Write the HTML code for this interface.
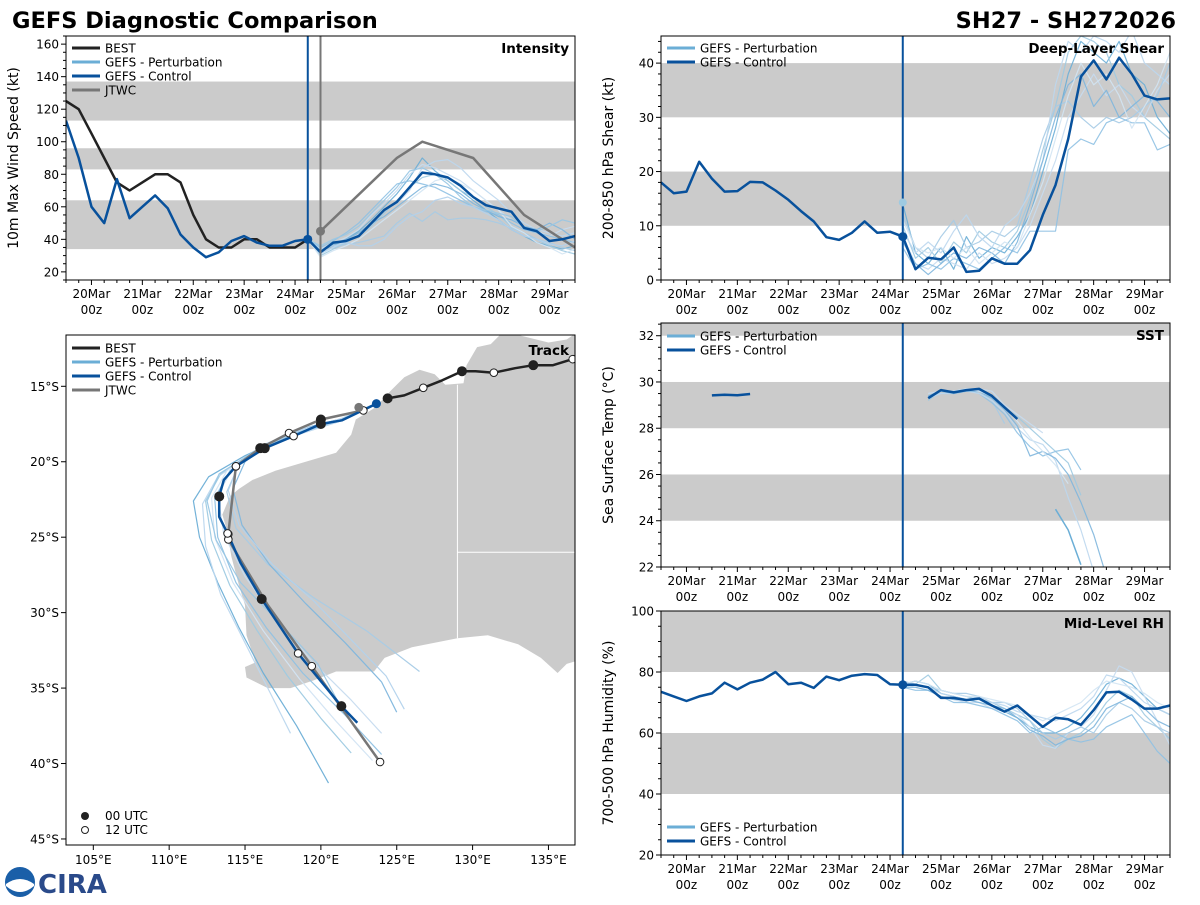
<!DOCTYPE html>
<html><head><meta charset="utf-8">
<style>
body{margin:0;background:#fff;}
svg text{font-family:"DejaVu Sans","Liberation Sans",sans-serif;}
</style></head>
<body>
<svg id="fig" width="1200" height="900" viewBox="0 0 1200 900" xmlns="http://www.w3.org/2000/svg">
<text x="12" y="28" font-size="22.5" font-weight="bold">GEFS Diagnostic Comparison</text>
<text x="1176" y="28" font-size="22.5" font-weight="bold" text-anchor="end">SH27 - SH272026</text>
<g>
<circle cx="20" cy="882" r="15" fill="#1a5fa8"/>
<path d="M6 884 Q20 874 34 884 L34 886 Q20 898 6 886 Z" fill="#fff"/>
<text x="38" y="893" font-size="26" font-weight="bold" fill="#2a4a8a" font-family="Liberation Serif, serif">CIRA</text>
</g>
</svg>
<script>
// ---------- DATA ----------
const T0 = 19.5, DT = 0.25; // time axis start (day of March) and step
const dayTicks = [20,21,22,23,24,25,26,27,28,29];
const initTime = 24.25, jtwcTime = 24.5;

const intensityBest = [125,120,105,90,75,70,75,80,80,75,55,40,35,35,40,40,35,35,35,40];
const intensityControl = [113,90,60,50,77,53,60,67,59,43,35,29,32,39,42,38,36,36,39,40,32,38,39,42,50,58,63,72,81,80,78,73,66,61,59,57,47,45,39,40,42];
const jtwcTimes = [24.5,26.0,26.5,27.5,28.5,29.5];
const jtwcIntensity = [45,90,100,90,55,35];
const intensityMembers = [
[40,33,36,40,45,52,60,68,78,90,82,76,70,64,58,52,46,42,38,36,34,36],
[40,30,34,38,42,48,56,64,72,78,80,76,70,66,60,55,48,44,40,36,33,31],
[40,34,38,41,46,55,62,70,80,86,84,80,76,70,64,58,52,48,45,42,46,48],
[40,32,35,37,38,40,42,50,56,51,57,52,53,53,52,50,47,44,40,38,35,33],
[40,35,39,44,50,58,66,74,76,74,72,68,64,60,57,55,50,46,44,42,40,38],
[40,31,35,39,43,50,58,62,70,84,88,89,84,76,70,64,56,50,46,44,42,44],
[40,33,37,40,44,50,54,60,66,72,74,72,68,62,58,54,52,48,46,50,46,40],
[40,29,33,36,40,46,52,58,64,70,76,78,74,70,64,58,48,44,38,35,31,34],
[40,36,40,43,48,56,64,72,82,84,80,74,66,60,58,56,54,47,45,48,52,50],
[40,34,36,38,36,36,40,48,54,57,64,66,62,60,56,52,46,42,40,37,36,39]];
const intensityBands = [[34,64],[83,96],[113,137]];

const shearControl = [18,16,16.3,21.8,18.7,16.3,16.4,18.1,18,16.5,14.8,12.7,10.8,7.9,7.4,8.7,10.8,8.7,8.9,8,2,4.1,3.8,6,1.5,1.7,4,3,3,5.5,12,17.5,26,37.5,40.5,37,41,38,34,33.3,33.5];
const shearMembers = [
[14,5,3,6,2,8,4,6,5,8,12,20,28,38,44,42,40,44,38,36,30,27],
[10,4,6,3,7,5,9,7,6,9,15,24,32,42,45,44,42,36,34,30,28,26],
[8,3,2,4,3,2,5,3,4,6,10,16,22,30,34,38,34,36,32,30,35,38],
[12,6,4,8,11,6,7,9,8,10,18,26,32,33,30,28,30,29,30,32,34,40],
[6,2,3,2,4,3,2,4,6,5,9,9,9,24,26,25,29,30,29,29,24,25],
[9,5,7,5,9,12,8,6,10,12,16,22,36,44,42,45,44,42,46,40,38,36],
[7,3,1,3,5,4,6,5,3,7,14,22,30,36,38,32,35,30,32,34,33,30],
[11,6,5,6,4,6,3,5,7,6,12,18,26,34,40,36,38,34,28,32,36,42]];
const shearBands = [[10,20],[30,40]];

const sstControl = [null,null,null,null,29.42,29.45,29.43,29.48,null,null,null,null,null,null,null,null,null,null,null,null,null,29.3,29.65,29.55,29.65,29.7,29.4,28.9,28.4];
const sstMembers = [
[29.2,29.6,29.5,29.6,29.6,29.3,28.9,28.5,28.0,27.5,27.0,26.5,25.1],
[29.5,29.6,29.6,29.7,29.7,29.6,29.0,28.6,28.2,27.8],
[29.3,29.5,29.5,29.6,29.6,29.2,28.2],
[29.4,29.6,29.6,29.7,29.5,29.1,28.6,27.8,27.2,26.8,27.0,27.1,26.2],
[29.3,29.5,29.5,29.6,29.5,29.2,28.7,28.0,27.5,27.3,26.6,25.0,23.6,21.8],
[29.4,29.6,29.5,29.6,29.6,29.3,28.8,28.1,26.8,27.0,26.7,26.0,24.8,23.4,21.6],
[29.3,29.6,29.6,29.7,29.6,29.4,28.9,28.3,27.6,27.0,26.4,25.6]];
const sstMemberStart = 24.75;
const sstLate = [24.5,23.6,22.1];
const sstLateStart = 27.25;
const sstBands = [[24,26],[28,30],[32,34]];

const rhControl = [73.5,72,70.5,72,73,76.5,74.3,76.5,77.5,80,76,76.5,74.8,78.5,77.3,78.8,79.3,79,76,75.8,75.8,75,71.5,71.5,70.8,71.3,69,67,69,65.5,62,65,64.5,62.7,67.5,73.3,73.5,71,68,68,69];
const rhMembers = [
[76,77,76,73,72,71,71,69,67,65,62,60,60,62,65,70,76,78,76,72,68,66],
[75,76,79,74,73,72,71,70,68,66,64,58,55,58,60,64,70,74,72,66,62,58],
[76,75,74,72,71,70,70,68,67,66,62,56,55,60,62,66,74,82,80,72,64,56],
[77,76,75,74,73,73,72,70,70,68,64,60,58,60,62,60,66,70,68,64,62,60],
[75,74,74,72,70,70,69,68,66,64,60,62,60,58,57,58,62,64,66,60,54,50],
[76,76,75,73,72,71,72,70,69,67,66,65,64,66,68,72,79,78,74,70,68,66],
[75,75,74,72,71,71,70,69,68,65,61,59,56,58,59,62,68,70,72,68,64,62],
[76,77,76,74,73,72,72,71,70,69,66,64,66,68,70,74,77,76,75,73,70,68]];
const rhBands = [[40,60],[80,100]];

// Track (lon E, lat; south negative)
const bestLon = [136.9,136.6,135.3,134.0,132.8,131.4,130.2,129.3,128.0,126.75,125.5,124.4];
const bestLat = [-13.0,-13.2,-13.6,-13.6,-13.8,-14.1,-14.0,-14.0,-14.6,-15.1,-15.6,-15.8];
const bestHour = [null,12,null,0,null,12,null,0,null,12,null,0];
const ctrlLon = [123.66,121.4,120.0,118.2,116.3,114.4,113.6,113.3,113.3,113.85,114.7,116.1,118.5,121.35,122.4];
const ctrlLat = [-16.15,-17.25,-17.5,-18.3,-19.1,-20.3,-21.2,-22.3,-23.65,-24.75,-26.7,-29.1,-32.7,-36.2,-37.3];
const ctrlHour = [null,null,0,12,0,12,null,0,null,12,null,0,12,0,null];
const jtwcLon = [122.5,122.8,120.0,117.9,116.0,114.4,113.9,113.9,116.5,119.4,123.9];
const jtwcLat = [-16.4,-16.6,-17.2,-18.1,-19.1,-20.3,-24.8,-25.15,-29.5,-33.55,-39.9];
const jtwcHour = [null,12,0,12,0,12,12,12,null,12,12];
const memberLon = [
[123.7,121.0,118.0,115.0,112.6,111.6,112.0,113.2,114.6,116.2,118.4,120.5],
[123.7,121.2,118.4,115.6,113.4,112.4,112.8,114.0,115.8,117.8,120.0,122.0],
[123.7,121.4,118.8,116.2,114.2,113.2,113.6,115.0,117.0,119.4,122.0,124.0],
[123.7,121.5,119.0,116.5,114.6,113.8,114.4,116.5,119.5,123.0,126.5],
[123.7,121.3,118.6,116.0,114.0,113.0,113.2,114.4,116.4,118.8,121.6,124.0],
[123.7,121.0,118.2,115.4,113.2,112.2,112.4,113.4,115.0,116.6,118.0],
[123.7,121.6,119.2,116.8,115.0,114.2,114.8,116.6,119.0,121.6,124.0,125.0],
[123.7,121.2,118.5,115.8,113.8,112.8,113.0,114.2,116.2,118.6,121.0,123.4],
[123.7,121.1,118.3,115.5,113.3,112.5,113.1,114.7,117.2,119.8,121.5],
[123.7,121.4,118.9,116.4,114.6,113.9,114.6,116.8,119.5,122.0,124.3,125.5]];
const memberLat = [
[-16.1,-17.3,-18.2,-19.6,-21.0,-22.6,-25.0,-28.0,-31.0,-34.0,-37.5,-41.3],
[-16.1,-17.2,-18.0,-19.3,-20.8,-22.6,-25.2,-28.2,-31.2,-34.2,-37.0,-39.3],
[-16.1,-17.2,-17.9,-19.0,-20.4,-22.2,-24.8,-27.6,-30.4,-33.2,-35.8,-38.0],
[-16.1,-17.1,-17.8,-18.9,-20.2,-22.0,-24.4,-26.8,-29.0,-31.2,-33.9],
[-16.1,-17.3,-18.1,-19.2,-20.6,-22.4,-25.0,-28.0,-31.0,-34.0,-36.8,-39.4],
[-16.1,-17.4,-18.3,-19.5,-21.0,-22.8,-25.6,-28.8,-32.0,-35.2,-38.0],
[-16.1,-17.1,-17.7,-18.7,-20.0,-21.8,-24.2,-26.8,-29.4,-32.0,-34.6,-36.6],
[-16.1,-17.2,-18.0,-19.2,-20.6,-22.4,-25.0,-28.0,-31.2,-34.4,-37.2,-39.8],
[-16.1,-17.3,-18.1,-19.4,-20.8,-22.6,-25.2,-28.0,-30.6,-33.4,-36.6],
[-16.1,-17.2,-17.8,-18.8,-20.1,-21.9,-24.2,-26.8,-29.2,-31.8,-34.2,-36.4]];
const lonTicks = [105,110,115,120,125,130,135];
const latTicks = [-15,-20,-25,-30,-35,-40,-45];
const landLon = [137.5,136.2,135,133,132,131.2,130.3,129.6,129.4,128.2,127.5,126.5,125.5,124.6,123.6,122.3,122.0,121.0,119.0,117.0,115.5,114.6,114.0,113.5,113.8,114.1,114.6,115.0,115.1,115.7,115.0,115.1,116.5,118.0,119.5,121.0,123.5,124.2,126.0,129.0,131.0,133.0,134.5,135.6,136.2,137.5];
const landLat = [-11.0,-11.9,-12.1,-11.6,-11.4,-12.2,-12.4,-13.6,-14.8,-14.9,-14.2,-13.9,-14.4,-15.3,-16.4,-17.2,-18.2,-19.4,-20.0,-20.6,-21.2,-21.8,-22.3,-23.5,-24.5,-26.3,-28.2,-29.5,-31.5,-33.3,-33.6,-34.3,-35.0,-35.0,-34.5,-33.9,-33.9,-33.0,-32.3,-31.7,-31.5,-32.1,-33.0,-34.0,-33.4,-33.0];

// ---------- DRAWING ----------
const NS = 'http://www.w3.org/2000/svg';
const svg = document.getElementById('fig');
function el(tag, attrs, parent){const e=document.createElementNS(NS,tag);for(const k in attrs)e.setAttribute(k,attrs[k]);(parent||svg).appendChild(e);return e;}
const PERT_COLORS = ['#6baed6','#9ecae1','#c6dbef','#a6cbe6','#8fc1e3','#bcd7ee','#7fb6dd','#d2e4f3','#98c6e4','#b2d2ec'];
const CTRL='#08519c';
let clipId=0;

function makePanel(name, x0,y0,w,h, ymin,ymax, yMajor, yMinor, ylabel){
  const g = el('g',{});
  
  
  const P={x0,y0,w,h,ymin,ymax,g};
  P.sx = t => x0 + (t - T0)/10*w;
  P.sy = v => y0 + h - (v-ymin)/(ymax-ymin)*h;
  const id='clip'+(clipId++);
  const cp=el('clipPath',{id},g); el('rect',{x:x0,y:y0,width:w,height:h},cp);
  P.plot = el('g',{'clip-path':'url(#'+id+')'},g);
  
  
  for(let v=Math.ceil(ymin/yMinor)*yMinor; v<=ymax; v+=yMinor){
    const y=P.sy(v); const major = Math.abs(v/yMajor - Math.round(v/yMajor))<1e-6;
    el('line',{x1:x0-(major?5:3),x2:x0,y1:y,y2:y,stroke:'#000','stroke-width':1},g);
    if(major){const t=el('text',{x:x0-7,y:y+4.5,'font-size':12,'text-anchor':'end'},g);t.textContent=v;
      
      }
  }
  for(let d=19.5; d<=29.5+1e-6; d+=0.25){
    const x=P.sx(d); const major=Math.abs(d-Math.round(d))<1e-6;
    el('line',{x1:x,x2:x,y1:y0+h,y2:y0+h+(major?5:3),stroke:'#000','stroke-width':1},g);
  }
  dayTicks.forEach(d=>{
    const x=P.sx(d);
    const t=el('text',{x:x,y:y0+h+18,'font-size':12,'text-anchor':'middle'},g);t.textContent=d+'Mar';
    
    
    const t2=el('text',{x:x,y:y0+h+34,'font-size':12,'text-anchor':'middle'},g);t2.textContent='00z';
    
    
  });
  const yl=el('text',{x:0,y:0,'font-size':14,'text-anchor':'middle',transform:`translate(${x0-48},${y0+h/2}) rotate(-90)`},g);
  yl.textContent=ylabel;
  
  
  return P;
}
function bands(P, list){
  list.forEach(b=>{
    const r=el('rect',{x:P.x0,y:P.sy(b[1]),width:P.w,height:P.sy(b[0])-P.sy(b[1]),fill:'#cbcbcb'},P.plot);
    
    
  });
}
function series(P, vals, start, color, width, name, opacity){
  let d='', pen=false;
  vals.forEach((v,i)=>{
    if(v===null||v===undefined){pen=false;return;}
    const x=P.sx(start+i*DT), y=P.sy(v);
    d += (pen?'L':'M')+x.toFixed(1)+' '+y.toFixed(1); pen=true;
  });
  const p=el('path',{d,fill:'none',stroke:color,'stroke-width':width,'stroke-linejoin':'round',opacity:opacity||1},P.plot);
  
  
  return p;
}
function frame(P,title){
  const r=el('rect',{x:P.x0,y:P.y0,width:P.w,height:P.h,fill:'none',stroke:'#000','stroke-width':1},P.g);
  
  
  const t=el('text',{x:P.x0+P.w-6,y:P.y0+17,'font-size':13.5,'font-weight':'bold','text-anchor':'end'},P.g);
  t.textContent=title;
  
  
}
function legend(g, x, y, items){
  const lg=el('g',{},g);
  
  
  items.forEach((it,i)=>{
    const yy=y+i*14;
    const e=el('g',{},lg);
    
    
    el('line',{x1:x,x2:x+28,y1:yy,y2:yy,stroke:it[1],'stroke-width':3},e);
    const t=el('text',{x:x+33,y:yy+4.5,'font-size':12},e); t.textContent=it[0];
  });
}
function vline(P,t,color,name){
  const l=el('line',{x1:P.sx(t),x2:P.sx(t),y1:P.y0,y2:P.y0+P.h,stroke:color,'stroke-width':2},P.plot);
  
  
}
function dot(P,t,v,color,r){
  const c=el('circle',{cx:P.sx(t),cy:P.sy(v),r:r||4.5,fill:color},P.plot);
  
  
}

// Intensity
const PI = makePanel('intensity',66,36,509,244,15,165,20,5,'10m Max Wind Speed (kt)');
bands(PI,intensityBands);
intensityMembers.forEach((m,i)=>series(PI,m,initTime,PERT_COLORS[i%PERT_COLORS.length],1.2,'intensity-perturbation-line',0.9));
series(PI,intensityBest,T0,'#222',2.5,'intensity-best-line');
{let d='';jtwcTimes.forEach((t,i)=>{d+=(i?'L':'M')+PI.sx(t)+' '+PI.sy(jtwcIntensity[i]);});
 const p=el('path',{d,fill:'none',stroke:'#777','stroke-width':2.5},PI.plot);
  }
series(PI,intensityControl,T0,CTRL,2.5,'intensity-control-line');
vline(PI,initTime,CTRL,'init-time-line'); vline(PI,jtwcTime,'#777','jtwc-time-line');
dot(PI,initTime,40,CTRL,4.5); dot(PI,jtwcTime,45,'#777',4.5);
frame(PI,'Intensity');
legend(PI.g,72,48,[['BEST','#222'],['GEFS - Perturbation','#6baed6'],['GEFS - Control',CTRL],['JTWC','#777']]);

// Shear
const PS = makePanel('shear',661,36,509,244,0,45,10,2,'200-850 hPa Shear (kt)');
bands(PS,shearBands);
shearMembers.forEach((m,i)=>series(PS,m,initTime,PERT_COLORS[i%PERT_COLORS.length],1.2,'shear-perturbation-line',0.9));
series(PS,shearControl,T0,CTRL,2.5,'shear-control-line');
vline(PS,initTime,CTRL,'init-time-line');
dot(PS,initTime,14.3,'#9ecae1',4); dot(PS,initTime,8,CTRL,4.5);
frame(PS,'Deep-Layer Shear');
legend(PS.g,667,48,[['GEFS - Perturbation','#6baed6'],['GEFS - Control',CTRL]]);

// SST
const PT = makePanel('sst',661,323,509,244,22,32.55,2,0.5,'Sea Surface Temp (°C)');
bands(PT,sstBands);
sstMembers.forEach((m,i)=>series(PT,m,sstMemberStart,PERT_COLORS[(i+1)%PERT_COLORS.length],1.2,'sst-perturbation-line',0.9));
series(PT,sstLate,sstLateStart,'#6baed6',1.5,'sst-perturbation-line');
series(PT,sstControl,T0,CTRL,2.5,'sst-control-line');
vline(PT,initTime,CTRL,'init-time-line');
frame(PT,'SST');
legend(PT.g,667,336,[['GEFS - Perturbation','#6baed6'],['GEFS - Control',CTRL]]);

// RH
const PR = makePanel('rh',661,611,509,244,20,100,20,5,'700-500 hPa Humidity (%)');
bands(PR,rhBands);
rhMembers.forEach((m,i)=>series(PR,m,initTime,PERT_COLORS[i%PERT_COLORS.length],1.2,'rh-perturbation-line',0.9));
series(PR,rhControl,T0,CTRL,2.5,'rh-control-line');
vline(PR,initTime,CTRL,'init-time-line');
dot(PR,initTime,75.8,CTRL,4.5);
frame(PR,'Mid-Level RH');
legend(PR.g,667,827,[['GEFS - Perturbation','#6baed6'],['GEFS - Control',CTRL]]);

// Track map
(function(){
  const x0=66,y0=335,w=509,h=510;
  const lonMin=103.2,lonMax=136.75,latMax=-11.6,latMin=-45.4;
  const sx=l=>x0+(l-lonMin)/(lonMax-lonMin)*w;
  const sy=l=>y0+(latMax-l)/(latMax-latMin)*h;
  const g=el('g',{});  
  const cp=el('clipPath',{id:'trackclip'},g); el('rect',{x:x0,y:y0,width:w,height:h},cp);
  const pl=el('g',{'clip-path':'url(#trackclip)'},g);
   
  const land=el('polygon',{points:landLon.map((l,i)=>sx(l).toFixed(1)+','+sy(landLat[i]).toFixed(1)).join(' '),fill:'#cbcbcb'},pl);
   
  const b1=el('polyline',{points:`${sx(129)},${sy(-14.9)} ${sx(129)},${sy(-31.7)}`,stroke:'#fff','stroke-width':1,fill:'none'},pl);
   
  const b2=el('polyline',{points:`${sx(129)},${sy(-26)} ${sx(137)},${sy(-26)}`,stroke:'#fff','stroke-width':1,fill:'none'},pl);
   
  function trk(lons,lats,color,wd,name,op){
    const p=el('polyline',{points:lons.map((l,i)=>sx(l).toFixed(1)+','+sy(lats[i]).toFixed(1)).join(' '),fill:'none',stroke:color,'stroke-width':wd,'stroke-linejoin':'round',opacity:op||1},pl);
     
  }
  function marks(lons,lats,hours){
    hours.forEach((hr,i)=>{ if(hr===null) return;
      const c=el('circle',{cx:sx(lons[i]),cy:sy(lats[i]),r:hr===0?4.5:3.8,fill:hr===0?'#222':'#fff',stroke:'#222','stroke-width':1},pl);
       });
  }
  memberLon.forEach((m,i)=>trk(m,memberLat[i],PERT_COLORS[i%PERT_COLORS.length],1.2,'track-perturbation-line',0.95));
  trk(jtwcLon,jtwcLat,'#777',2.5,'track-jtwc-line');
  trk(ctrlLon,ctrlLat,CTRL,2.5,'track-control-line');
  trk(bestLon,bestLat,'#222',2.5,'track-best-line');
  marks(jtwcLon,jtwcLat,jtwcHour); marks(ctrlLon,ctrlLat,ctrlHour); marks(bestLon,bestLat,bestHour);
  const c0=el('circle',{cx:sx(ctrlLon[0]),cy:sy(ctrlLat[0]),r:4.5,fill:CTRL},pl);
   
  const c1=el('circle',{cx:sx(jtwcLon[0]),cy:sy(jtwcLat[0]),r:4.5,fill:'#777'},pl);
   
  latTicks.forEach(l=>{const y=sy(l);el('line',{x1:x0-5,x2:x0,y1:y,y2:y,stroke:'#000'},g);
    const t=el('text',{x:x0-7,y:y+4.5,'font-size':12,'text-anchor':'end'},g);t.textContent=(-l)+'°S';
     });
  lonTicks.forEach(l=>{const x=sx(l);el('line',{x1:x,x2:x,y1:y0+h,y2:y0+h+5,stroke:'#000'},g);
    const t=el('text',{x:x,y:y0+h+19,'font-size':12,'text-anchor':'middle'},g);t.textContent=l+'°E';
     });
  const fr=el('rect',{x:x0,y:y0,width:w,height:h,fill:'none',stroke:'#000'},g);
   
  const tt=el('text',{x:x0+w-6,y:y0+20,'font-size':13.5,'font-weight':'bold','text-anchor':'end'},g);tt.textContent='Track';
   
  legend(g,72,348,[['BEST','#222'],['GEFS - Perturbation','#6baed6'],['GEFS - Control',CTRL],['JTWC','#777']]);
  const ml=el('g',{},g);  
  el('circle',{cx:85,cy:816,r:4,fill:'#222'},ml);
  el('circle',{cx:85,cy:830,r:3.5,fill:'#fff',stroke:'#222'},ml);
  const a=el('text',{x:105,y:820,'font-size':12},ml);a.textContent='00 UTC';
  const b=el('text',{x:105,y:834,'font-size':12},ml);b.textContent='12 UTC';
})();
</script>
</body></html>
